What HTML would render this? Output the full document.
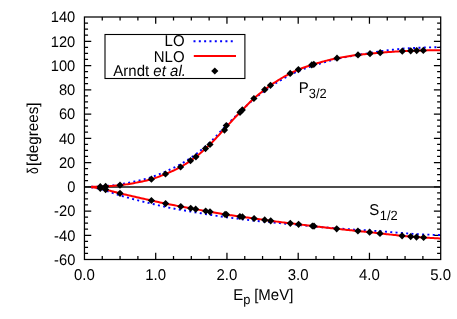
<!DOCTYPE html>
<html><head><meta charset="utf-8"><title>Phase shifts</title>
<style>
html,body{margin:0;padding:0;background:#fff;}
body{width:457px;height:319px;overflow:hidden;position:relative;font-family:"Liberation Sans",sans-serif;}
</style></head><body>
<svg width="457" height="319" viewBox="0 0 457 319" style="position:absolute;left:0;top:0;will-change:transform">
<rect width="457" height="319" fill="#fff"/>
<path d="M102.26,259.5 v-3.6 M102.26,17.0 v3.6 M120.08,259.5 v-3.6 M120.08,17.0 v3.6 M137.89,259.5 v-3.6 M137.89,17.0 v3.6 M155.70,259.5 v-6.8 M155.70,17.0 v6.8 M173.51,259.5 v-3.6 M173.51,17.0 v3.6 M191.32,259.5 v-3.6 M191.32,17.0 v3.6 M209.14,259.5 v-3.6 M209.14,17.0 v3.6 M226.95,259.5 v-6.8 M226.95,17.0 v6.8 M244.76,259.5 v-3.6 M244.76,17.0 v3.6 M262.57,259.5 v-3.6 M262.57,17.0 v3.6 M280.39,259.5 v-3.6 M280.39,17.0 v3.6 M298.20,259.5 v-6.8 M298.20,17.0 v6.8 M316.01,259.5 v-3.6 M316.01,17.0 v3.6 M333.82,259.5 v-3.6 M333.82,17.0 v3.6 M351.64,259.5 v-3.6 M351.64,17.0 v3.6 M369.45,259.5 v-6.8 M369.45,17.0 v6.8 M387.26,259.5 v-3.6 M387.26,17.0 v3.6 M405.07,259.5 v-3.6 M405.07,17.0 v3.6 M422.89,259.5 v-3.6 M422.89,17.0 v3.6 M84.45,253.44 h3.6 M440.7,253.44 h-3.6 M84.45,247.37 h3.6 M440.7,247.37 h-3.6 M84.45,241.31 h3.6 M440.7,241.31 h-3.6 M84.45,235.25 h6.8 M440.7,235.25 h-6.8 M84.45,229.19 h3.6 M440.7,229.19 h-3.6 M84.45,223.12 h3.6 M440.7,223.12 h-3.6 M84.45,217.06 h3.6 M440.7,217.06 h-3.6 M84.45,211.00 h6.8 M440.7,211.00 h-6.8 M84.45,204.94 h3.6 M440.7,204.94 h-3.6 M84.45,198.88 h3.6 M440.7,198.88 h-3.6 M84.45,192.81 h3.6 M440.7,192.81 h-3.6 M84.45,186.75 h6.8 M440.7,186.75 h-6.8 M84.45,180.69 h3.6 M440.7,180.69 h-3.6 M84.45,174.62 h3.6 M440.7,174.62 h-3.6 M84.45,168.56 h3.6 M440.7,168.56 h-3.6 M84.45,162.50 h6.8 M440.7,162.50 h-6.8 M84.45,156.44 h3.6 M440.7,156.44 h-3.6 M84.45,150.38 h3.6 M440.7,150.38 h-3.6 M84.45,144.31 h3.6 M440.7,144.31 h-3.6 M84.45,138.25 h6.8 M440.7,138.25 h-6.8 M84.45,132.19 h3.6 M440.7,132.19 h-3.6 M84.45,126.12 h3.6 M440.7,126.12 h-3.6 M84.45,120.06 h3.6 M440.7,120.06 h-3.6 M84.45,114.00 h6.8 M440.7,114.00 h-6.8 M84.45,107.94 h3.6 M440.7,107.94 h-3.6 M84.45,101.88 h3.6 M440.7,101.88 h-3.6 M84.45,95.81 h3.6 M440.7,95.81 h-3.6 M84.45,89.75 h6.8 M440.7,89.75 h-6.8 M84.45,83.69 h3.6 M440.7,83.69 h-3.6 M84.45,77.62 h3.6 M440.7,77.62 h-3.6 M84.45,71.56 h3.6 M440.7,71.56 h-3.6 M84.45,65.50 h6.8 M440.7,65.50 h-6.8 M84.45,59.44 h3.6 M440.7,59.44 h-3.6 M84.45,53.38 h3.6 M440.7,53.38 h-3.6 M84.45,47.31 h3.6 M440.7,47.31 h-3.6 M84.45,41.25 h6.8 M440.7,41.25 h-6.8 M84.45,35.19 h3.6 M440.7,35.19 h-3.6 M84.45,29.12 h3.6 M440.7,29.12 h-3.6 M84.45,23.06 h3.6 M440.7,23.06 h-3.6" stroke="#000" stroke-width="1.25" fill="none"/>
<path d="M84.45,186.95 H440.7" stroke="#111" stroke-width="1.5" fill="none"/>
<path d="M91.20,186.81 L92.66,186.78 L94.12,186.75 L95.59,186.72 L97.05,186.68 L98.51,186.64 L99.97,186.57 L101.44,186.48 L102.90,186.36 L104.36,186.23 L105.82,186.09 L107.29,185.95 L108.75,185.80 L110.21,185.66 L111.67,185.50 L113.14,185.34 L114.60,185.15 L116.06,184.95 L117.52,184.74 L118.98,184.52 L120.45,184.30 L121.91,184.06 L123.37,183.80 L124.83,183.53 L126.30,183.25 L127.76,182.96 L129.22,182.65 L130.68,182.34 L132.15,182.01 L133.61,181.69 L135.07,181.36 L136.53,181.05 L137.99,180.72 L139.46,180.38 L140.92,180.03 L142.38,179.68 L143.84,179.30 L145.31,178.92 L146.77,178.52 L148.23,178.11 L149.69,177.68 L151.16,177.23 L152.62,176.76 L154.08,176.25 L155.54,175.71 L157.01,175.14 L158.47,174.55 L159.93,173.94 L161.39,173.33 L162.85,172.70 L164.32,172.07 L165.78,171.44 L167.24,170.80 L168.70,170.15 L170.17,169.49 L171.63,168.81 L173.09,168.12 L174.55,167.41 L176.02,166.68 L177.48,165.93 L178.94,165.16 L180.40,164.38 L181.87,163.55 L183.33,162.66 L184.79,161.74 L186.25,160.78 L187.71,159.79 L189.18,158.83 L190.64,157.86 L192.10,156.88 L193.56,155.86 L195.03,154.81 L196.49,153.70 L197.95,152.55 L199.41,151.37 L200.88,150.17 L202.34,148.94 L203.80,147.71 L205.26,146.47 L206.73,145.23 L208.19,143.97 L209.65,142.66 L211.11,141.28 L212.57,139.84 L214.04,138.36 L215.50,136.84 L216.96,135.30 L218.42,133.73 L219.89,132.16 L221.35,130.63 L222.81,129.11 L224.27,127.60 L225.74,126.11 L227.20,124.64 L228.66,123.15 L230.12,121.67 L231.58,120.19 L233.05,118.71 L234.51,117.25 L235.97,115.81 L237.43,114.39 L238.90,112.98 L240.36,111.59 L241.82,110.21 L243.28,108.82 L244.75,107.44 L246.21,106.05 L247.67,104.68 L249.13,103.33 L250.60,102.01 L252.06,100.73 L253.52,99.50 L254.98,98.31 L256.44,97.13 L257.91,95.96 L259.37,94.82 L260.83,93.71 L262.29,92.61 L263.76,91.51 L265.22,90.41 L266.68,89.31 L268.14,88.23 L269.61,87.19 L271.07,86.22 L272.53,85.28 L273.99,84.36 L275.46,83.45 L276.92,82.56 L278.38,81.64 L279.84,80.74 L281.30,79.85 L282.77,78.99 L284.23,78.14 L285.69,77.32 L287.15,76.51 L288.62,75.73 L290.08,74.96 L291.54,74.22 L293.00,73.50 L294.47,72.81 L295.93,72.14 L297.39,71.51 L298.85,70.91 L300.32,70.32 L301.78,69.74 L303.24,69.18 L304.70,68.64 L306.16,68.12 L307.63,67.61 L309.09,67.11 L310.55,66.62 L312.01,66.15 L313.48,65.68 L314.94,65.22 L316.40,64.76 L317.86,64.30 L319.33,63.85 L320.79,63.39 L322.25,62.92 L323.71,62.46 L325.17,62.02 L326.64,61.58 L328.10,61.15 L329.56,60.73 L331.02,60.33 L332.49,59.94 L333.95,59.56 L335.41,59.20 L336.87,58.86 L338.34,58.53 L339.80,58.20 L341.26,57.89 L342.72,57.59 L344.19,57.30 L345.65,57.01 L347.11,56.74 L348.57,56.47 L350.03,56.21 L351.50,55.96 L352.96,55.71 L354.42,55.47 L355.88,55.24 L357.35,55.02 L358.81,54.80 L360.27,54.54 L361.73,54.29 L363.20,54.05 L364.66,53.81 L366.12,53.57 L367.58,53.34 L369.05,53.10 L370.51,52.86 L371.97,52.61 L373.43,52.36 L374.89,52.11 L376.36,51.87 L377.82,51.65 L379.28,51.44 L380.74,51.24 L382.21,51.04 L383.67,50.85 L385.13,50.66 L386.59,50.48 L388.06,50.29 L389.52,50.11 L390.98,49.93 L392.44,49.76 L393.91,49.58 L395.37,49.41 L396.83,49.25 L398.29,49.09 L399.75,48.93 L401.22,48.77 L402.68,48.66 L404.14,48.57 L405.60,48.47 L407.07,48.38 L408.53,48.29 L409.99,48.20 L411.45,48.12 L412.92,48.04 L414.38,47.97 L415.84,47.90 L417.30,47.84 L418.76,47.78 L420.23,47.73 L421.69,47.67 L423.15,47.61 L424.61,47.56 L426.08,47.50 L427.54,47.45 L429.00,47.40 L430.46,47.35 L431.93,47.31 L433.39,47.27 L434.85,47.23 L436.31,47.19 L437.78,47.16 L439.24,47.13 L440.70,47.10" stroke="#0000ff" stroke-width="1.9" stroke-dasharray="2 3.32" fill="none"/>
<path d="M91.20,187.40 L92.66,187.58 L94.12,187.77 L95.59,188.00 L97.05,188.28 L98.51,188.57 L99.97,188.87 L101.44,189.22 L102.90,189.67 L104.36,190.17 L105.82,190.66 L107.29,191.15 L108.75,191.65 L110.21,192.15 L111.67,192.66 L113.14,193.16 L114.60,193.67 L116.06,194.17 L117.52,194.67 L118.98,195.16 L120.45,195.62 L121.91,196.03 L123.37,196.44 L124.83,196.84 L126.30,197.24 L127.76,197.64 L129.22,198.04 L130.68,198.43 L132.15,198.82 L133.61,199.21 L135.07,199.60 L136.53,199.99 L137.99,200.37 L139.46,200.76 L140.92,201.14 L142.38,201.50 L143.84,201.85 L145.31,202.20 L146.77,202.54 L148.23,202.89 L149.69,203.24 L151.16,203.58 L152.62,203.93 L154.08,204.28 L155.54,204.62 L157.01,204.97 L158.47,205.32 L159.93,205.66 L161.39,206.00 L162.85,206.33 L164.32,206.66 L165.78,206.98 L167.24,207.29 L168.70,207.60 L170.17,207.91 L171.63,208.18 L173.09,208.45 L174.55,208.71 L176.02,208.98 L177.48,209.24 L178.94,209.50 L180.40,209.75 L181.87,210.01 L183.33,210.25 L184.79,210.50 L186.25,210.74 L187.71,210.98 L189.18,211.23 L190.64,211.48 L192.10,211.75 L193.56,212.02 L195.03,212.30 L196.49,212.56 L197.95,212.82 L199.41,213.06 L200.88,213.29 L202.34,213.52 L203.80,213.76 L205.26,213.99 L206.73,214.24 L208.19,214.48 L209.65,214.73 L211.11,214.96 L212.57,215.20 L214.04,215.43 L215.50,215.66 L216.96,215.89 L218.42,216.11 L219.89,216.34 L221.35,216.55 L222.81,216.76 L224.27,216.97 L225.74,217.17 L227.20,217.36 L228.66,217.55 L230.12,217.73 L231.58,217.91 L233.05,218.09 L234.51,218.26 L235.97,218.45 L237.43,218.63 L238.90,218.81 L240.36,218.99 L241.82,219.18 L243.28,219.36 L244.75,219.55 L246.21,219.74 L247.67,219.92 L249.13,220.09 L250.60,220.26 L252.06,220.42 L253.52,220.58 L254.98,220.73 L256.44,220.88 L257.91,221.03 L259.37,221.18 L260.83,221.33 L262.29,221.48 L263.76,221.60 L265.22,221.73 L266.68,221.86 L268.14,222.01 L269.61,222.15 L271.07,222.27 L272.53,222.39 L273.99,222.53 L275.46,222.68 L276.92,222.83 L278.38,222.98 L279.84,223.12 L281.30,223.27 L282.77,223.41 L284.23,223.55 L285.69,223.68 L287.15,223.82 L288.62,223.96 L290.08,224.10 L291.54,224.24 L293.00,224.37 L294.47,224.51 L295.93,224.64 L297.39,224.78 L298.85,224.91 L300.32,225.06 L301.78,225.20 L303.24,225.35 L304.70,225.49 L306.16,225.64 L307.63,225.78 L309.09,225.93 L310.55,226.07 L312.01,226.21 L313.48,226.35 L314.94,226.49 L316.40,226.63 L317.86,226.77 L319.33,226.91 L320.79,227.04 L322.25,227.18 L323.71,227.31 L325.17,227.43 L326.64,227.55 L328.10,227.67 L329.56,227.79 L331.02,227.90 L332.49,228.02 L333.95,228.13 L335.41,228.25 L336.87,228.36 L338.34,228.47 L339.80,228.57 L341.26,228.68 L342.72,228.78 L344.19,228.89 L345.65,228.99 L347.11,229.09 L348.57,229.19 L350.03,229.29 L351.50,229.39 L352.96,229.49 L354.42,229.59 L355.88,229.69 L357.35,229.79 L358.81,229.89 L360.27,229.97 L361.73,230.05 L363.20,230.14 L364.66,230.22 L366.12,230.30 L367.58,230.39 L369.05,230.47 L370.51,230.57 L371.97,230.67 L373.43,230.77 L374.89,230.88 L376.36,230.98 L377.82,231.09 L379.28,231.19 L380.74,231.29 L382.21,231.41 L383.67,231.53 L385.13,231.66 L386.59,231.78 L388.06,231.90 L389.52,232.02 L390.98,232.14 L392.44,232.26 L393.91,232.38 L395.37,232.50 L396.83,232.61 L398.29,232.72 L399.75,232.83 L401.22,232.94 L402.68,233.05 L404.14,233.18 L405.60,233.30 L407.07,233.42 L408.53,233.53 L409.99,233.64 L411.45,233.73 L412.92,233.83 L414.38,233.92 L415.84,234.00 L417.30,234.08 L418.76,234.16 L420.23,234.24 L421.69,234.31 L423.15,234.39 L424.61,234.46 L426.08,234.52 L427.54,234.59 L429.00,234.65 L430.46,234.71 L431.93,234.77 L433.39,234.83 L434.85,234.89 L436.31,234.94 L437.78,235.00 L439.24,235.05 L440.70,235.10" stroke="#0000ff" stroke-width="1.9" stroke-dasharray="2 3.32" fill="none"/>
<path d="M91.20,186.86 L92.66,186.84 L94.12,186.82 L95.59,186.80 L97.05,186.77 L98.51,186.74 L99.97,186.71 L101.44,186.66 L102.90,186.58 L104.36,186.48 L105.82,186.39 L107.29,186.29 L108.75,186.19 L110.21,186.08 L111.67,185.97 L113.14,185.85 L114.60,185.72 L116.06,185.59 L117.52,185.45 L118.98,185.31 L120.45,185.15 L121.91,184.98 L123.37,184.79 L124.83,184.59 L126.30,184.38 L127.76,184.15 L129.22,183.91 L130.68,183.67 L132.15,183.41 L133.61,183.15 L135.07,182.89 L136.53,182.62 L137.99,182.34 L139.46,182.05 L140.92,181.75 L142.38,181.43 L143.84,181.11 L145.31,180.77 L146.77,180.42 L148.23,180.05 L149.69,179.67 L151.16,179.27 L152.62,178.84 L154.08,178.38 L155.54,177.89 L157.01,177.37 L158.47,176.82 L159.93,176.25 L161.39,175.67 L162.85,175.08 L164.32,174.49 L165.78,173.89 L167.24,173.28 L168.70,172.66 L170.17,172.03 L171.63,171.39 L173.09,170.73 L174.55,170.05 L176.02,169.35 L177.48,168.63 L178.94,167.88 L180.40,167.11 L181.87,166.29 L183.33,165.42 L184.79,164.51 L186.25,163.56 L187.71,162.59 L189.18,161.60 L190.64,160.61 L192.10,159.59 L193.56,158.55 L195.03,157.47 L196.49,156.34 L197.95,155.16 L199.41,153.93 L200.88,152.68 L202.34,151.40 L203.80,150.11 L205.26,148.81 L206.73,147.52 L208.19,146.20 L209.65,144.84 L211.11,143.40 L212.57,141.91 L214.04,140.37 L215.50,138.80 L216.96,137.20 L218.42,135.59 L219.89,133.96 L221.35,132.33 L222.81,130.72 L224.27,129.12 L225.74,127.54 L227.20,125.97 L228.66,124.40 L230.12,122.82 L231.58,121.25 L233.05,119.68 L234.51,118.11 L235.97,116.55 L237.43,115.01 L238.90,113.48 L240.36,111.96 L241.82,110.46 L243.28,108.95 L244.75,107.44 L246.21,105.94 L247.67,104.46 L249.13,103.00 L250.60,101.58 L252.06,100.19 L253.52,98.84 L254.98,97.55 L256.44,96.30 L257.91,95.08 L259.37,93.90 L260.83,92.73 L262.29,91.58 L263.76,90.44 L265.22,89.29 L266.68,88.14 L268.14,87.01 L269.61,85.93 L271.07,84.91 L272.53,83.92 L273.99,82.95 L275.46,81.99 L276.92,81.06 L278.38,80.14 L279.84,79.24 L281.30,78.35 L282.77,77.49 L284.23,76.64 L285.69,75.82 L287.15,75.01 L288.62,74.23 L290.08,73.46 L291.54,72.72 L293.00,72.00 L294.47,71.31 L295.93,70.64 L297.39,70.01 L298.85,69.42 L300.32,68.85 L301.78,68.29 L303.24,67.76 L304.70,67.23 L306.16,66.73 L307.63,66.24 L309.09,65.76 L310.55,65.29 L312.01,64.84 L313.48,64.39 L314.94,63.95 L316.40,63.51 L317.86,63.08 L319.33,62.65 L320.79,62.23 L322.25,61.81 L323.71,61.40 L325.17,61.00 L326.64,60.61 L328.10,60.23 L329.56,59.86 L331.02,59.50 L332.49,59.16 L333.95,58.83 L335.41,58.52 L336.87,58.22 L338.34,57.94 L339.80,57.67 L341.26,57.40 L342.72,57.14 L344.19,56.89 L345.65,56.65 L347.11,56.41 L348.57,56.18 L350.03,55.96 L351.50,55.75 L352.96,55.55 L354.42,55.35 L355.88,55.16 L357.35,54.98 L358.81,54.81 L360.27,54.64 L361.73,54.49 L363.20,54.35 L364.66,54.21 L366.12,54.07 L367.58,53.93 L369.05,53.79 L370.51,53.65 L371.97,53.50 L373.43,53.35 L374.89,53.20 L376.36,53.05 L377.82,52.91 L379.28,52.78 L380.74,52.66 L382.21,52.54 L383.67,52.42 L385.13,52.31 L386.59,52.20 L388.06,52.09 L389.52,51.98 L390.98,51.88 L392.44,51.78 L393.91,51.69 L395.37,51.59 L396.83,51.50 L398.29,51.42 L399.75,51.34 L401.22,51.26 L402.68,51.18 L404.14,51.11 L405.60,51.03 L407.07,50.96 L408.53,50.90 L409.99,50.83 L411.45,50.77 L412.92,50.72 L414.38,50.67 L415.84,50.62 L417.30,50.59 L418.76,50.55 L420.23,50.51 L421.69,50.48 L423.15,50.44 L424.61,50.41 L426.08,50.38 L427.54,50.35 L429.00,50.32 L430.46,50.30 L431.93,50.27 L433.39,50.25 L434.85,50.24 L436.31,50.22 L437.78,50.21 L439.24,50.20 L440.70,50.20" stroke="#ff0000" stroke-width="2" fill="none"/>
<path d="M91.20,187.21 L92.66,187.35 L94.12,187.50 L95.59,187.67 L97.05,187.86 L98.51,188.05 L99.97,188.25 L101.44,188.50 L102.90,188.86 L104.36,189.27 L105.82,189.66 L107.29,190.03 L108.75,190.40 L110.21,190.78 L111.67,191.17 L113.14,191.55 L114.60,191.93 L116.06,192.31 L117.52,192.68 L118.98,193.05 L120.45,193.41 L121.91,193.76 L123.37,194.11 L124.83,194.46 L126.30,194.81 L127.76,195.15 L129.22,195.49 L130.68,195.83 L132.15,196.17 L133.61,196.51 L135.07,196.84 L136.53,197.17 L137.99,197.50 L139.46,197.83 L140.92,198.16 L142.38,198.49 L143.84,198.82 L145.31,199.14 L146.77,199.47 L148.23,199.79 L149.69,200.12 L151.16,200.45 L152.62,200.77 L154.08,201.10 L155.54,201.43 L157.01,201.75 L158.47,202.08 L159.93,202.40 L161.39,202.72 L162.85,203.03 L164.32,203.34 L165.78,203.64 L167.24,203.93 L168.70,204.22 L170.17,204.51 L171.63,204.79 L173.09,205.07 L174.55,205.35 L176.02,205.62 L177.48,205.89 L178.94,206.16 L180.40,206.43 L181.87,206.69 L183.33,206.95 L184.79,207.20 L186.25,207.45 L187.71,207.70 L189.18,207.96 L190.64,208.23 L192.10,208.50 L193.56,208.79 L195.03,209.07 L196.49,209.35 L197.95,209.61 L199.41,209.88 L200.88,210.14 L202.34,210.39 L203.80,210.66 L205.26,210.92 L206.73,211.19 L208.19,211.47 L209.65,211.74 L211.11,212.00 L212.57,212.26 L214.04,212.52 L215.50,212.78 L216.96,213.03 L218.42,213.29 L219.89,213.54 L221.35,213.78 L222.81,214.02 L224.27,214.26 L225.74,214.49 L227.20,214.71 L228.66,214.93 L230.12,215.15 L231.58,215.36 L233.05,215.56 L234.51,215.77 L235.97,215.97 L237.43,216.17 L238.90,216.38 L240.36,216.58 L241.82,216.79 L243.28,216.99 L244.75,217.20 L246.21,217.41 L247.67,217.61 L249.13,217.82 L250.60,218.02 L252.06,218.22 L253.52,218.42 L254.98,218.62 L256.44,218.81 L257.91,219.00 L259.37,219.19 L260.83,219.38 L262.29,219.57 L263.76,219.77 L265.22,219.97 L266.68,220.19 L268.14,220.42 L269.61,220.64 L271.07,220.85 L272.53,221.05 L273.99,221.25 L275.46,221.44 L276.92,221.63 L278.38,221.82 L279.84,222.01 L281.30,222.19 L282.77,222.37 L284.23,222.55 L285.69,222.73 L287.15,222.91 L288.62,223.09 L290.08,223.27 L291.54,223.45 L293.00,223.63 L294.47,223.80 L295.93,223.98 L297.39,224.15 L298.85,224.33 L300.32,224.51 L301.78,224.69 L303.24,224.87 L304.70,225.05 L306.16,225.23 L307.63,225.41 L309.09,225.59 L310.55,225.77 L312.01,225.95 L313.48,226.12 L314.94,226.29 L316.40,226.47 L317.86,226.64 L319.33,226.81 L320.79,226.99 L322.25,227.16 L323.71,227.33 L325.17,227.50 L326.64,227.67 L328.10,227.84 L329.56,228.00 L331.02,228.17 L332.49,228.33 L333.95,228.50 L335.41,228.66 L336.87,228.82 L338.34,228.98 L339.80,229.13 L341.26,229.29 L342.72,229.44 L344.19,229.59 L345.65,229.75 L347.11,229.90 L348.57,230.05 L350.03,230.20 L351.50,230.34 L352.96,230.49 L354.42,230.64 L355.88,230.79 L357.35,230.94 L358.81,231.09 L360.27,231.24 L361.73,231.39 L363.20,231.54 L364.66,231.68 L366.12,231.83 L367.58,231.98 L369.05,232.14 L370.51,232.30 L371.97,232.47 L373.43,232.63 L374.89,232.81 L376.36,232.98 L377.82,233.15 L379.28,233.32 L380.74,233.48 L382.21,233.65 L383.67,233.81 L385.13,233.98 L386.59,234.14 L388.06,234.30 L389.52,234.47 L390.98,234.63 L392.44,234.79 L393.91,234.95 L395.37,235.11 L396.83,235.26 L398.29,235.41 L399.75,235.56 L401.22,235.71 L402.68,235.86 L404.14,236.00 L405.60,236.14 L407.07,236.28 L408.53,236.42 L409.99,236.54 L411.45,236.66 L412.92,236.77 L414.38,236.88 L415.84,236.99 L417.30,237.09 L418.76,237.19 L420.23,237.28 L421.69,237.38 L423.15,237.47 L424.61,237.56 L426.08,237.66 L427.54,237.75 L429.00,237.84 L430.46,237.93 L431.93,238.01 L433.39,238.10 L434.85,238.18 L436.31,238.26 L437.78,238.34 L439.24,238.42 L440.70,238.50" stroke="#ff0000" stroke-width="2" fill="none"/>
<g fill="#000"><path d="M100.30,183.10 L103.90,186.70 L100.30,190.30 L96.70,186.70Z"/><path d="M105.60,182.80 L109.20,186.40 L105.60,190.00 L102.00,186.40Z"/><path d="M120.00,181.60 L123.60,185.20 L120.00,188.80 L116.40,185.20Z"/><path d="M151.40,175.60 L155.00,179.20 L151.40,182.80 L147.80,179.20Z"/><path d="M165.50,170.40 L169.10,174.00 L165.50,177.60 L161.90,174.00Z"/><path d="M180.60,163.40 L184.20,167.00 L180.60,170.60 L177.00,167.00Z"/><path d="M190.50,157.10 L194.10,160.70 L190.50,164.30 L186.90,160.70Z"/><path d="M195.90,153.20 L199.50,156.80 L195.90,160.40 L192.30,156.80Z"/><path d="M205.50,145.00 L209.10,148.60 L205.50,152.20 L201.90,148.60Z"/><path d="M210.00,140.90 L213.60,144.50 L210.00,148.10 L206.40,144.50Z"/><path d="M224.50,126.47 L228.10,130.07 L224.50,133.67 L220.90,130.07Z"/><path d="M226.30,121.93 L229.90,125.53 L226.30,129.13 L222.70,125.53Z"/><path d="M240.00,108.73 L243.60,112.33 L240.00,115.93 L236.40,112.33Z"/><path d="M242.30,106.36 L245.90,109.96 L242.30,113.56 L238.70,109.96Z"/><path d="M253.90,94.90 L257.50,98.50 L253.90,102.10 L250.30,98.50Z"/><path d="M264.70,86.10 L268.30,89.70 L264.70,93.30 L261.10,89.70Z"/><path d="M270.50,81.70 L274.10,85.30 L270.50,88.90 L266.90,85.30Z"/><path d="M290.20,69.80 L293.80,73.40 L290.20,77.00 L286.60,73.40Z"/><path d="M298.40,66.00 L302.00,69.60 L298.40,73.20 L294.80,69.60Z"/><path d="M311.80,61.31 L315.40,64.91 L311.80,68.51 L308.20,64.91Z"/><path d="M313.80,60.70 L317.40,64.30 L313.80,67.90 L310.20,64.30Z"/><path d="M337.00,54.60 L340.60,58.20 L337.00,61.80 L333.40,58.20Z"/><path d="M358.00,51.30 L361.60,54.90 L358.00,58.50 L354.40,54.90Z"/><path d="M370.00,50.10 L373.60,53.70 L370.00,57.30 L366.40,53.70Z"/><path d="M380.20,49.10 L383.80,52.70 L380.20,56.30 L376.60,52.70Z"/><path d="M402.30,47.60 L405.90,51.20 L402.30,54.80 L398.70,51.20Z"/><path d="M410.70,47.20 L414.30,50.80 L410.70,54.40 L407.10,50.80Z"/><path d="M416.70,47.00 L420.30,50.60 L416.70,54.20 L413.10,50.60Z"/><path d="M423.30,46.84 L426.90,50.44 L423.30,54.04 L419.70,50.44Z"/><path d="M100.30,184.70 L103.90,188.30 L100.30,191.90 L96.70,188.30Z"/><path d="M105.60,186.00 L109.20,189.60 L105.60,193.20 L102.00,189.60Z"/><path d="M120.00,189.70 L123.60,193.30 L120.00,196.90 L116.40,193.30Z"/><path d="M151.40,196.90 L155.00,200.50 L151.40,204.10 L147.80,200.50Z"/><path d="M165.60,200.00 L169.20,203.60 L165.60,207.20 L162.00,203.60Z"/><path d="M180.80,202.90 L184.40,206.50 L180.80,210.10 L177.20,206.50Z"/><path d="M190.70,204.64 L194.30,208.24 L190.70,211.84 L187.10,208.24Z"/><path d="M195.70,205.60 L199.30,209.20 L195.70,212.80 L192.10,209.20Z"/><path d="M205.70,207.40 L209.30,211.00 L205.70,214.60 L202.10,211.00Z"/><path d="M210.00,208.20 L213.60,211.80 L210.00,215.40 L206.40,211.80Z"/><path d="M225.10,210.79 L228.70,214.39 L225.10,217.99 L221.50,214.39Z"/><path d="M226.50,211.01 L230.10,214.61 L226.50,218.21 L222.90,214.61Z"/><path d="M239.90,212.92 L243.50,216.52 L239.90,220.12 L236.30,216.52Z"/><path d="M242.50,213.28 L246.10,216.88 L242.50,220.48 L238.90,216.88Z"/><path d="M254.10,214.90 L257.70,218.50 L254.10,222.10 L250.50,218.50Z"/><path d="M264.70,216.30 L268.30,219.90 L264.70,223.50 L261.10,219.90Z"/><path d="M270.70,217.20 L274.30,220.80 L270.70,224.40 L267.10,220.80Z"/><path d="M290.30,219.70 L293.90,223.30 L290.30,226.90 L286.70,223.30Z"/><path d="M298.60,220.70 L302.20,224.30 L298.60,227.90 L295.00,224.30Z"/><path d="M312.40,222.39 L316.00,225.99 L312.40,229.59 L308.80,225.99Z"/><path d="M314.00,222.58 L317.60,226.18 L314.00,229.78 L310.40,226.18Z"/><path d="M336.70,225.20 L340.30,228.80 L336.70,232.40 L333.10,228.80Z"/><path d="M357.90,227.40 L361.50,231.00 L357.90,234.60 L354.30,231.00Z"/><path d="M369.60,228.60 L373.20,232.20 L369.60,235.80 L366.00,232.20Z"/><path d="M380.00,229.80 L383.60,233.40 L380.00,237.00 L376.40,233.40Z"/><path d="M402.10,232.20 L405.70,235.80 L402.10,239.40 L398.50,235.80Z"/><path d="M410.70,233.00 L414.30,236.60 L410.70,240.20 L407.10,236.60Z"/><path d="M416.50,233.43 L420.10,237.03 L416.50,240.63 L412.90,237.03Z"/><path d="M423.60,233.90 L427.20,237.50 L423.60,241.10 L420.00,237.50Z"/></g>
<rect x="84.45" y="17.0" width="356.25" height="242.5" fill="none" stroke="#000" stroke-width="1.25"/>
<rect x="105" y="34.5" width="139.9" height="44" fill="#fff" stroke="#000" stroke-width="1.1"/>
<path d="M193.5,41.3 H235.5" stroke="#0000ff" stroke-width="1.9" stroke-dasharray="2 3.32" fill="none"/>
<path d="M193.8,56.1 H236" stroke="#ff0000" stroke-width="2" fill="none"/>
<g fill="#000"><path d="M214.80,67.40 L218.40,71.00 L214.80,74.60 L211.20,71.00Z"/></g>
<g font-family="Liberation Sans, sans-serif" font-size="15" fill="#000" style="text-rendering:geometricPrecision">
<text transform="matrix(1,0,0.001,1.04,75.30,264.95)" text-anchor="end"><tspan font-size="14.7">-60</tspan></text>
<text transform="matrix(1,0,0.001,1.04,75.30,240.70)" text-anchor="end"><tspan font-size="14.7">-40</tspan></text>
<text transform="matrix(1,0,0.001,1.04,75.30,216.45)" text-anchor="end"><tspan font-size="14.7">-20</tspan></text>
<text transform="matrix(1,0,0.001,1.04,75.30,192.20)" text-anchor="end"><tspan font-size="14.7">0</tspan></text>
<text transform="matrix(1,0,0.001,1.04,75.30,167.95)" text-anchor="end"><tspan font-size="14.7">20</tspan></text>
<text transform="matrix(1,0,0.001,1.04,75.30,143.70)" text-anchor="end"><tspan font-size="14.7">40</tspan></text>
<text transform="matrix(1,0,0.001,1.04,75.30,119.45)" text-anchor="end"><tspan font-size="14.7">60</tspan></text>
<text transform="matrix(1,0,0.001,1.04,75.30,95.20)" text-anchor="end"><tspan font-size="14.7">80</tspan></text>
<text transform="matrix(1,0,0.001,1.04,75.30,70.95)" text-anchor="end"><tspan font-size="14.7">100</tspan></text>
<text transform="matrix(1,0,0.001,1.04,75.30,46.70)" text-anchor="end"><tspan font-size="14.7">120</tspan></text>
<text transform="matrix(1,0,0.001,1.04,75.30,22.45)" text-anchor="end"><tspan font-size="14.7">140</tspan></text>
<text transform="matrix(1,0,0.001,1.04,84.45,279.50)" text-anchor="middle">0.0</text>
<text transform="matrix(1,0,0.001,1.04,155.70,279.50)" text-anchor="middle">1.0</text>
<text transform="matrix(1,0,0.001,1.04,226.95,279.50)" text-anchor="middle">2.0</text>
<text transform="matrix(1,0,0.001,1.04,298.20,279.50)" text-anchor="middle">3.0</text>
<text transform="matrix(1,0,0.001,1.04,369.45,279.50)" text-anchor="middle">4.0</text>
<text transform="matrix(1,0,0.001,1.04,440.70,279.50)" text-anchor="middle">5.0</text>
<text transform="matrix(1,0,0.001,1.04,184.60,46.30)" text-anchor="end">LO</text>
<text transform="matrix(1,0,0.001,1.04,184.60,61.50)" text-anchor="end">NLO</text>
<text transform="matrix(1,0,0.001,1.04,185.90,75.70)" text-anchor="end">Arndt <tspan font-style="italic">et al.</tspan></text>
<text transform="matrix(1,0,0.001,1.04,298.80,93.30)" text-anchor="start">P<tspan font-size="12.9" dy="4.6">3/2</tspan></text>
<text transform="matrix(1,0,0.001,1.04,369.30,214.90)" text-anchor="start">S<tspan font-size="12.9" dx="0.4" dy="4.5">1/2</tspan></text>
<text transform="matrix(1,0,0.001,1.04,233.20,300.30)" text-anchor="start">E<tspan font-size="12.9" dy="4.0">p</tspan><tspan dy="-4.0" dx="-0.4"> [MeV]</tspan></text>
<text transform="translate(37.9,166.0) rotate(-90) scale(1,1.04)" font-size="15.25">[degrees]</text>
<text transform="translate(37.9,173.9) rotate(-90) scale(0.8,1.04)">δ</text>
</g>
</svg>
</body></html>
